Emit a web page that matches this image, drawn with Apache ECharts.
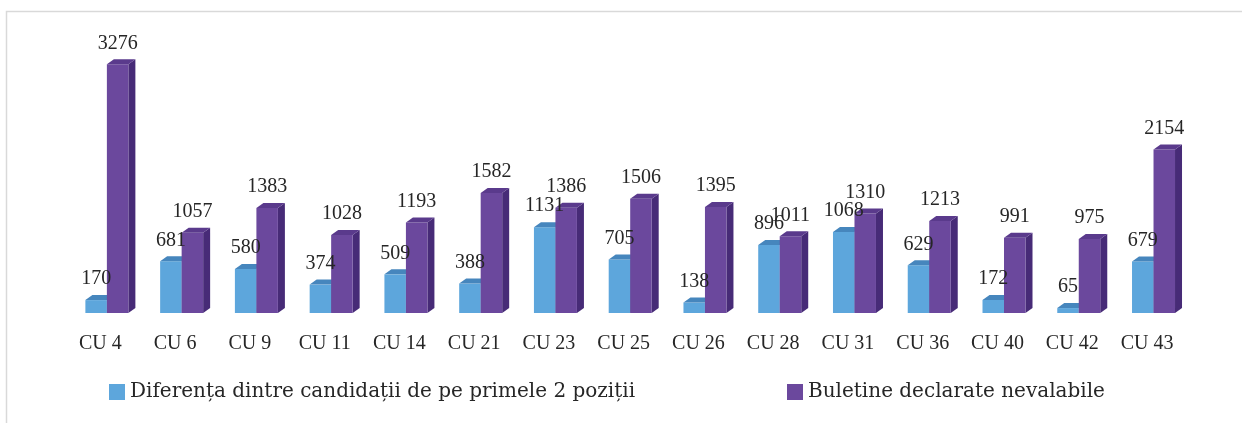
<!DOCTYPE html>
<html>
<head>
<meta charset="utf-8">
<script src="https://cdn.jsdelivr.net/npm/echarts@6/dist/echarts.min.js"></script>
<style>
  html, body { margin: 0; padding: 0; background: #fff; }
  #chart { width: 1242px; height: 423px; }
</style>
</head>
<body>
<div id="chart"></div>
<script>
// Circumscriptions (colegii uninominale)
const categories = ['CU 4', 'CU 6', 'CU 9', 'CU 11', 'CU 14', 'CU 21', 'CU 23', 'CU 25', 'CU 26', 'CU 28', 'CU 31', 'CU 36', 'CU 40', 'CU 42', 'CU 43'];
// Vote gap between the top two candidates
const diferenta = [170, 681, 580, 374, 509, 388, 1131, 705, 138, 896, 1068, 629, 172, 65, 679];
// Ballots declared invalid
const nevalabile = [3276, 1057, 1383, 1028, 1193, 1582, 1386, 1506, 1395, 1011, 1310, 1213, 991, 975, 2154];

const seriesNames = ['Diferența dintre candidații de pe primele 2 poziții', 'Buletine declarate nevalabile'];

const BAR_W = 21.5;   // front face width
const SHIFT = 6.5;    // bar pair offset from category centre
const DX = 7, DY = 5; // depth of the pseudo-3D extrusion
const LABEL_FONT = '20px "Liberation Serif", serif';

const palettes = [
  { front: '#5DA6DC', top: '#4686BD', side: '#3F77A8' },
  { front: '#6B489D', top: '#5A3A8C', side: '#472B77' }
];

function makeRenderer(which) {
  const pal = palettes[which];
  return function (params, api) {
    const idx = api.value(0);
    const v = api.value(1);
    const base = api.coord([idx, 0]);
    const top = api.coord([idx, v]);
    const cx = base[0] + SHIFT;
    const x0 = which === 0 ? cx - BAR_W : cx;
    const x1 = x0 + BAR_W;
    const yt = top[1], yb = base[1];
    return {
      type: 'group',
      children: [
        { type: 'polygon', shape: { points: [[x1, yt], [x1 + DX, yt - DY], [x1 + DX, yb - DY], [x1, yb]] },
          style: { fill: pal.side } },
        { type: 'rect', shape: { x: x0, y: yt, width: BAR_W, height: yb - yt },
          style: { fill: pal.front } },
        { type: 'polygon', shape: { points: [[x0, yt], [x1, yt], [x1 + DX, yt - DY], [x0 + DX, yt - DY]] },
          style: { fill: pal.top } },
        { type: 'text', z2: 100,
          style: { text: String(v), x: (x0 + x1) / 2, y: yt - 21, align: 'center', verticalAlign: 'middle',
                   font: LABEL_FONT, fill: '#262626' } }
      ]
    };
  };
}

const legendText = { fontFamily: 'DejaVu Serif', fontSize: 20, color: '#262626', lineHeight: 22 };

const chart = echarts.init(document.getElementById('chart'));
chart.setOption({
  animation: false,
  backgroundColor: '#ffffff',
  graphic: [{
    type: 'rect', silent: true,
    shape: { x: 6.5, y: 11.5, width: 1400, height: 600 },
    style: { fill: 'none', stroke: '#d9d9d9', lineWidth: 1.5 }
  }],
  legend: [
    { data: [seriesNames[0]], left: 104, top: 376, icon: 'rect', itemWidth: 16, itemHeight: 16,
      textStyle: legendText },
    { data: [seriesNames[1]], left: 782, top: 376, icon: 'rect', itemWidth: 16, itemHeight: 16,
      textStyle: legendText }
  ],
  grid: { left: 63, right: 57.6, top: 9.4, bottom: 110, containLabel: false },
  xAxis: {
    type: 'category',
    data: categories,
    axisLine: { show: false },
    axisTick: { show: false },
    axisLabel: { margin: 21, fontFamily: 'Liberation Serif', fontSize: 20, color: '#262626' }
  },
  yAxis: {
    type: 'value', min: 0, max: 4000, interval: 1000,
    show: false,
    splitLine: { show: false }
  },
  series: [
    { name: seriesNames[0], type: 'custom', renderItem: makeRenderer(0),
      itemStyle: { color: palettes[0].front },
      encode: { x: 0, y: 1 },
      data: diferenta.map((v, i) => [i, v]) },
    { name: seriesNames[1], type: 'custom', renderItem: makeRenderer(1),
      itemStyle: { color: palettes[1].front },
      encode: { x: 0, y: 1 },
      data: nevalabile.map((v, i) => [i, v]) }
  ]
});
</script>
</body>
</html>
